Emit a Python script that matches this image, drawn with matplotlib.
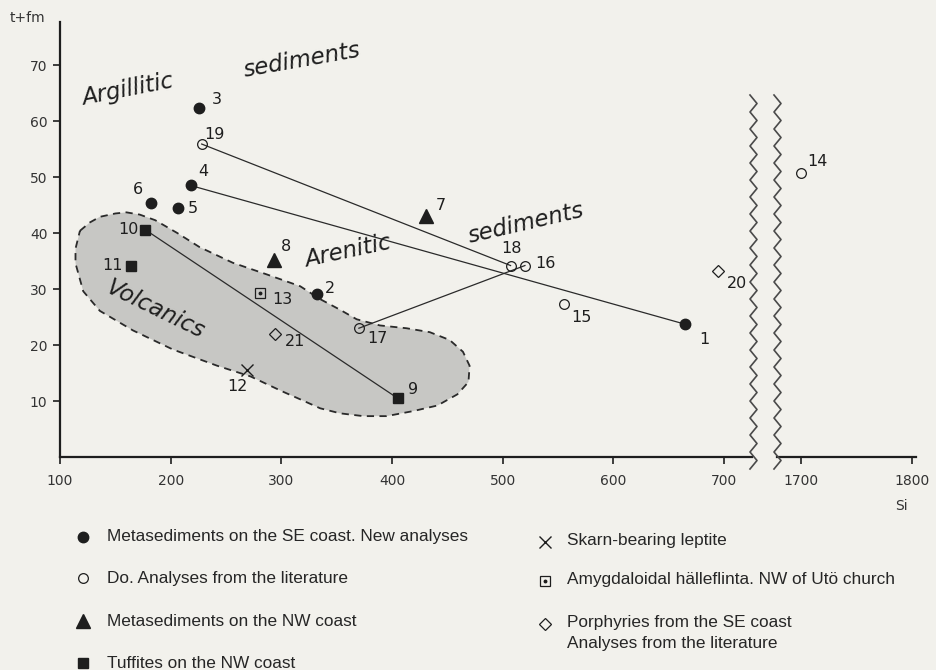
import numpy as np
import matplotlib.pyplot as plt
from matplotlib.lines import Line2D
from matplotlib.patches import Polygon

# --- data ------------------------------------------------------------------
sample_ids  = [1, 2, 3, 4, 5, 6, 7, 8, 9, 10, 11, 12, 13, 14, 15, 16, 17, 18, 19, 20, 21]
si_values   = [665, 332, 226, 218, 207, 182, 431, 293, 405, 177, 164, 269, 281,
               1700, 555, 520, 370, 507, 228, 694, 294]
tfm_values  = [23.7, 29.1, 62.3, 48.5, 44.4, 45.4, 43.1, 35.1, 10.5, 40.6, 34.2, 15.6, 29.3,
               50.8, 27.4, 34.2, 23.0, 34.2, 55.9, 33.3, 21.9]
sample_type = ['se_new'] * 6 + ['nw_meta'] * 2 + ['tuffite'] * 3 + ['skarn', 'amygd'] + \
              ['se_lit'] * 6 + ['porph'] * 2

# samples joined by a line (from, to)
tie_lines = [(19, 18), (4, 1), (17, 16), (10, 9)]

# outline of the shaded "Volcanics" field (Si, t+fm)
volc_si  = [118, 127, 136, 150, 160, 172, 186, 206, 226, 256, 287, 317, 335, 353, 368, 389,
            413, 434, 452, 464, 470, 469, 459, 441, 419, 395, 374, 353, 335, 317, 301, 272,
            242, 202, 166, 136, 121, 114, 114]
volc_tfm = [40.4, 41.9, 42.9, 43.5, 43.7, 43.3, 42.3, 40.0, 37.5, 34.7, 32.6, 30.5, 28.2, 26.3,
            24.6, 23.5, 23.0, 22.3, 20.9, 18.8, 16.3, 13.4, 11.2, 9.2, 8.2, 7.3, 7.3, 7.8, 8.7,
            10.3, 11.7, 14.4, 16.3, 19.2, 22.6, 26.1, 29.6, 34.6, 37.2]

y_ticks = [10, 20, 30, 40, 50, 60, 70]
x_ticks_left = [100, 200, 300, 400, 500, 600, 700]
x_ticks_right = [1700, 1800]

legend_left = [('se_new', 'Metasediments on the SE coast. New analyses'),
               ('se_lit', 'Do. Analyses from the literature'),
               ('nw_meta', 'Metasediments on the NW coast'),
               ('tuffite', 'Tuffites on the NW coast')]
legend_right = [('skarn', 'Skarn-bearing leptite'),
                ('amygd', 'Amygdaloidal hälleflinta. NW of Utö church'),
                ('porph', 'Porphyries from the SE coast\nAnalyses from the literature')]

# --- styling ----------------------------------------------------------------
BG = '#f2f1ec'
INK = '#1e1e1e'
W, H = 937, 670

styles = {
    'se_new':  dict(marker='o', ms=7.5, mfc=INK, mec=INK),
    'se_lit':  dict(marker='o', ms=7, mfc='none', mec=INK, mew=0.9),
    'nw_meta': dict(marker='^', ms=10, mfc=INK, mec=INK),
    'tuffite': dict(marker='s', ms=7.5, mfc=INK, mec=INK),
    'skarn':   dict(marker='x', ms=8, mec=INK, mew=1.0),
    'amygd':   dict(marker='s', ms=7, mfc='none', mec=INK, mew=0.9),
    'porph':   dict(marker='D', ms=6, mfc='none', mec=INK, mew=0.9),
}

# label offsets from the marker, in pixels (dx right, dy down)
label_offset = {1: (19, 15), 2: (13, -6), 3: (17, -9), 4: (13, -14), 5: (14, 0), 6: (-13, -13),
                7: (14, -10), 8: (12, -14), 9: (15, -9), 10: (-17, 0), 11: (-18, 0), 12: (-10, 17),
                13: (22, 7), 14: (16, -11), 15: (18, 14), 16: (20, -2), 17: (19, 10), 18: (1, -17),
                19: (13, -10), 20: (19, 13), 21: (20, 7)}

plt.rcParams['font.family'] = ['DejaVu Sans']

fig = plt.figure(figsize=(W / 100, H / 100), dpi=100, facecolor=BG)


def fx(px):
    return px / W


def fy(py):
    return 1 - py / H


ax = fig.add_axes([fx(60), fy(457), fx(752) - fx(60), fy(22) - fy(457)])
axr = fig.add_axes([fx(777), fy(457), fx(916) - fx(777), fy(22) - fy(457)], sharey=ax)

for a in (ax, axr):
    a.set_facecolor('none')
    a.patch.set_visible(False)
    for s in ('top', 'right'):
        a.spines[s].set_visible(False)
    a.spines['bottom'].set_linewidth(1.6)
    a.spines['bottom'].set_color(INK)
    a.tick_params(axis='x', direction='out', length=5, width=1.2, colors=INK,
                  labelsize=10, labelcolor='#333333', pad=7)

ax.set_xlim(100, 100 + 692 / 1.107)
axr.set_xlim(1700 - 24 / 1.107, 1700 + 115 / 1.107)
ax.set_ylim(0, 77.7)

ax.spines['left'].set_linewidth(1.6)
ax.spines['left'].set_color(INK)
ax.set_xticks(x_ticks_left)
ax.set_yticks(y_ticks)
ax.tick_params(axis='y', direction='out', length=5, width=1.2, colors=INK,
               labelsize=10, labelcolor='#333333', pad=4)
axr.spines['left'].set_visible(False)
axr.set_xticks(x_ticks_right)
axr.tick_params(axis='y', left=False, labelleft=False)

# shaded volcanics field
ax.add_patch(Polygon(np.column_stack([volc_si, volc_tfm]), closed=True,
                     facecolor='#c7c7c4', edgecolor='#2a2a2a', lw=1.3,
                     linestyle=(0, (4, 3)), zorder=1))

# tie lines
pos = {i: (x, y) for i, x, y in zip(sample_ids, si_values, tfm_values)}
for a_id, b_id in tie_lines:
    ax.plot([pos[a_id][0], pos[b_id][0]], [pos[a_id][1], pos[b_id][1]],
            color='#2a2a2a', lw=0.9, zorder=2)

# points and labels
for i, x, y, kind in zip(sample_ids, si_values, tfm_values, sample_type):
    target = axr if x > 1000 else ax
    target.plot([x], [y], linestyle='none', zorder=3, **styles[kind])
    if kind == 'amygd':
        target.plot([x], [y], marker='o', ms=1.8, color=INK, zorder=4)
    dx, dy = label_offset[i]
    target.annotate(str(i), (x, y), xytext=(dx, -dy), textcoords='offset pixels',
                    ha='center', va='center', fontsize=11.5, color=INK, zorder=5)

# field names
field_text = dict(fontsize=16.5, fontstyle='italic', color=INK, ha='center', va='center')
ax.text(161, 65.5, 'Argillitic', rotation=11, **field_text)
ax.text(319, 70.9, 'sediments', rotation=10, **field_text)
ax.text(360, 36.7, 'Arenitic', rotation=12, **field_text)
ax.text(521, 41.7, 'sediments', rotation=13, **field_text)
ax.text(186, 26.3, 'Volcanics', rotation=-26, **field_text)

# axis names
fig.text(fx(27), fy(18), 't+fm', fontsize=10, color='#333333', ha='center', va='center')
fig.text(fx(901), fy(506), 'Si', fontsize=10, color='#333333', ha='center', va='center')

# wavy break lines
for xb in (753.5, 777.5):
    ys = np.arange(95, 477, 8.5)
    xs = xb + np.where(np.arange(len(ys)) % 2 == 0, -3.5, 3.5)
    fig.add_artist(Line2D(fx(xs), fy(ys), transform=fig.transFigure, color='#4a4a4a', lw=1.2))

# legend, drawn by hand in figure coordinates
leg_font = ['Liberation Sans', 'DejaVu Sans']
for (kind, text), yrow in zip(legend_left, [537, 578, 621, 663]):
    fig.add_artist(Line2D([fx(83)], [fy(yrow)], transform=fig.transFigure,
                          linestyle='none', **styles[kind]))
    fig.text(fx(107), fy(yrow), text, fontsize=12.4, family=leg_font, color='#262626',
             ha='left', va='center')
for (kind, text), yrow in zip(legend_right, [542, 581, 624]):
    fig.add_artist(Line2D([fx(545)], [fy(yrow)], transform=fig.transFigure,
                          linestyle='none', **styles[kind]))
    if kind == 'amygd':
        fig.add_artist(Line2D([fx(545)], [fy(yrow)], transform=fig.transFigure,
                              marker='o', ms=1.8, color=INK))
    fig.text(fx(567), fy(yrow - 9), text, fontsize=12.4, family=leg_font, color='#262626',
             ha='left', va='top', linespacing=1.5)

fig.savefig('out.png', dpi=100, facecolor=BG)
